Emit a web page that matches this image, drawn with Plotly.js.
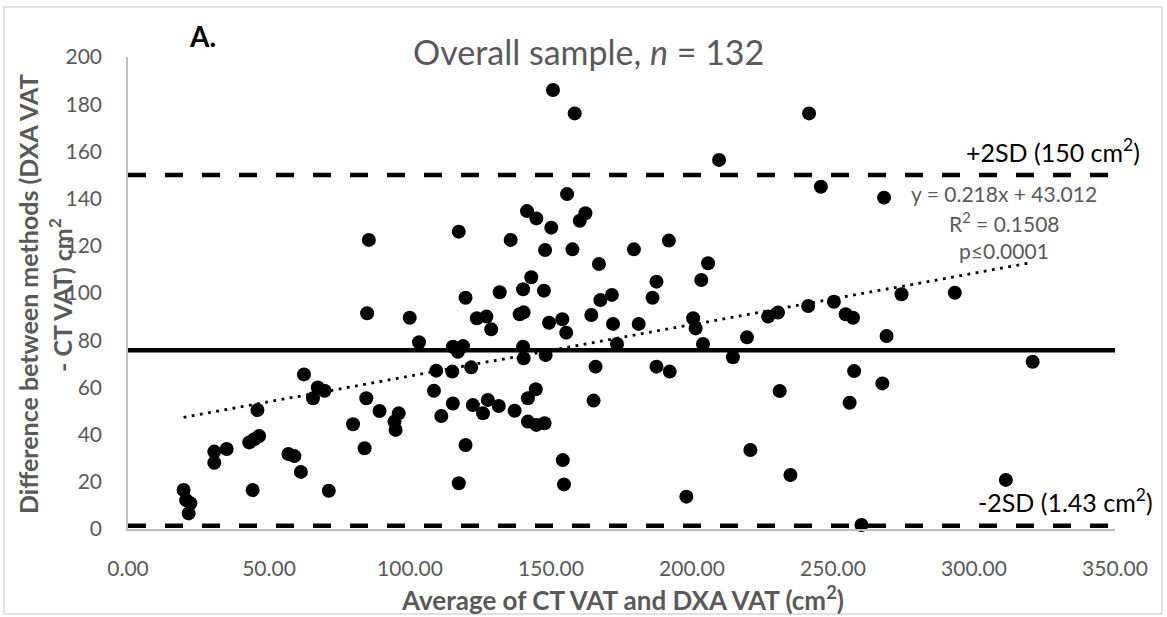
<!DOCTYPE html>
<html>
<head>
<meta charset="utf-8">
<script src="https://cdn.plot.ly/plotly-3.0.1.min.js"></script>
<style>
  html, body { margin: 0; padding: 0; background: #ffffff; }
  #chart { width: 1167px; height: 617px; }
</style>
</head>
<body>
<div id="chart"></div>
<script>
// Bland–Altman data: average of the two methods (x) and their difference (y), cm²
const avgVAT = [
  19.7, 20.6, 22.1, 21.5, 30.6, 30.6, 35.0, 43.0, 44.8, 46.5,
  45.9, 44.2, 56.9, 59.0, 61.3, 62.4, 67.3, 65.6, 69.7, 71.2,
  79.8, 83.9, 84.5, 84.8, 85.4, 89.2, 94.5, 94.9, 96.0, 99.9,
  103.2, 108.5, 109.3, 111.1, 115.0, 115.2, 115.2, 117.0, 118.8, 117.3,
  117.3, 119.7, 119.7, 121.7, 122.3, 123.7, 125.9, 127.1, 127.6, 128.8,
  131.5, 131.8, 135.7, 137.1, 138.9, 140.3, 140.1, 140.1, 140.3, 141.5,
  141.8, 141.8, 143.0, 144.6, 144.8, 144.8, 147.5, 147.7, 147.9, 148.1,
  149.3, 150.1, 150.7, 154.0, 154.2, 154.6, 155.4, 155.7, 157.6, 158.4,
  160.2, 162.2, 164.3, 165.1, 165.8, 167.0, 167.5, 171.6, 172.0, 173.4,
  179.4, 181.1, 186.0, 187.4, 187.4, 191.8, 192.1, 198.0, 200.4, 201.3,
  203.3, 203.9, 205.7, 209.6, 214.5, 219.5, 220.7, 227.0, 230.5, 231.1,
  234.9, 241.2, 241.5, 245.7, 250.3, 254.5, 255.9, 257.1, 257.5, 260.1,
  267.5, 268.1, 269.0, 274.3, 293.2, 311.3, 320.8
];
const diffVAT = [
  16.5, 12.3, 10.9, 6.6, 32.8, 28.1, 33.9, 36.7, 38.0, 39.4,
  50.4, 16.5, 31.8, 30.9, 24.2, 65.5, 60.0, 55.4, 58.6, 16.2,
  44.4, 34.2, 55.4, 91.4, 122.5, 50.0, 45.5, 42.0, 49.0, 89.5,
  79.1, 58.6, 67.1, 47.9, 66.7, 53.2, 77.2, 75.1, 77.5, 126.0,
  19.4, 98.0, 35.6, 68.5, 52.5, 89.3, 49.0, 90.0, 54.7, 84.6,
  52.1, 100.3, 122.5, 50.1, 91.0, 91.8, 101.6, 77.2, 72.3, 134.7,
  55.4, 45.5, 106.7, 59.2, 131.6, 44.1, 101.0, 44.8, 118.2, 73.7,
  87.4, 127.7, 186.0, 88.9, 29.2, 18.9, 83.2, 141.9, 118.5, 176.1,
  130.6, 133.8, 90.7, 54.4, 68.8, 112.3, 97.0, 99.2, 86.9, 78.4,
  118.5, 86.9, 98.0, 104.8, 68.8, 122.2, 66.7, 13.7, 89.3, 85.0,
  105.5, 78.4, 112.6, 156.4, 72.8, 81.2, 33.5, 90.0, 91.7, 58.5,
  22.9, 94.5, 176.1, 145.0, 96.3, 91.0, 53.5, 89.5, 66.9, 1.7,
  61.7, 140.4, 81.8, 99.5, 100.1, 20.8, 70.9
];

// Limits of agreement and mean bias (cm²)
const upperLimit = 150;
const lowerLimit = 1.43;
const meanBias = (upperLimit + lowerLimit) / 2;

// Linear fit of difference on average
const fitSlope = 0.218;
const fitIntercept = 43.012;
const fitR2 = 0.1508;

const xTicks = [0, 50, 100, 150, 200, 250, 300, 350];
const yTicks = [0, 20, 40, 60, 80, 100, 120, 140, 160, 180, 200];
const xRange = [0, 350];
const yRange = [0, 200];

// Plot-area geometry in pixels, used to place free text
const W = 1167, H = 617;
const M = { l: 128, r: 52, t: 57, b: 88 };
const plotW = W - M.l - M.r, plotH = H - M.t - M.b;
const px = v => (v - M.l) / plotW;
const py = v => (H - M.b - v) / plotH;

const fitX = [Math.min(...avgVAT), Math.max(...avgVAT)];
const fitY = fitX.map(x => fitSlope * x + fitIntercept);

const dashed = { color: '#000000', width: 4.5, dash: '18px,19px' };

const traces = [
  { x: xRange, y: [upperLimit, upperLimit], mode: 'lines', line: dashed, hoverinfo: 'skip' },
  { x: xRange, y: [lowerLimit, lowerLimit], mode: 'lines', line: dashed, hoverinfo: 'skip' },
  { x: xRange, y: [meanBias, meanBias], mode: 'lines', line: { color: '#000000', width: 4.5 }, hoverinfo: 'skip' },
  { x: avgVAT, y: diffVAT, mode: 'markers', cliponaxis: false,
    marker: { color: '#000000', size: 14, symbol: 'circle' } },
  { x: fitX, y: fitY, mode: 'lines', line: { color: '#000000', width: 2.8, dash: '2.8px,5.5px' }, hoverinfo: 'skip' }
];

const grey = '#595959';
const base = 'Lato, "Open Sans", sans-serif';

function note(text, x, y, size, color, opts) {
  return Object.assign({
    text: text, xref: 'paper', yref: 'paper', x: px(x), y: py(y),
    xanchor: 'center', yanchor: 'middle', showarrow: false,
    font: { family: base, size: size, color: color }
  }, opts || {});
}

const annotations = [
  note('Overall sample, <i>n</i> = 132', 588, 52, 34, grey),
  note('<b>A.</b>', 202, 36, 28, '#000000'),
  note('+2SD (150 cm<sup>2</sup>)', 1142, 150, 25, '#000000', { xanchor: 'right' }),
  note('-2SD (1.43 cm<sup>2</sup>)', 1155, 500, 25, '#000000', { xanchor: 'right' }),
  note('y = ' + fitSlope + 'x + ' + fitIntercept, 1004, 193, 21, grey),
  note('R<sup>2</sup> = ' + fitR2, 1004, 222, 21, grey),
  note('p≤0.0001', 1004, 250, 21, grey),
  note('<b>Average of CT VAT and DXA VAT (cm<sup>2</sup>)</b>', 622, 598, 26, grey),
  note('<b>Difference between methods (DXA VAT</b>', 28, 294, 25, grey, { textangle: -90 }),
  note('<b>- CT VAT) cm<sup>2</sup></b>', 60, 295, 25, grey, { textangle: -90 })
];

const layout = {
  width: W, height: H,
  margin: M,
  paper_bgcolor: '#ffffff', plot_bgcolor: '#ffffff',
  showlegend: false,
  font: { family: base, color: grey },
  xaxis: {
    range: xRange, tickvals: xTicks, tickformat: '.2f',
    showgrid: false, zeroline: false, showline: true,
    linecolor: '#bfbfbf', linewidth: 1.5, ticks: '',
    ticklabelstandoff: 20,
    tickfont: { family: base, size: 21, color: grey }
  },
  yaxis: {
    range: yRange, tickvals: yTicks,
    showgrid: false, zeroline: false, showline: true,
    linecolor: '#bfbfbf', linewidth: 1.5, ticks: '',
    ticklabelstandoff: 20,
    tickfont: { family: base, size: 21, color: grey }
  },
  annotations: annotations,
  shapes: [{
    type: 'rect', xref: 'paper', yref: 'paper', layer: 'below',
    x0: px(4), x1: px(1162), y0: py(614), y1: py(7),
    line: { color: '#d9d9d9', width: 1.5 }, fillcolor: 'rgba(0,0,0,0)'
  }]
};

Plotly.newPlot('chart', traces, layout, { displayModeBar: false });
</script>
</body>
</html>
